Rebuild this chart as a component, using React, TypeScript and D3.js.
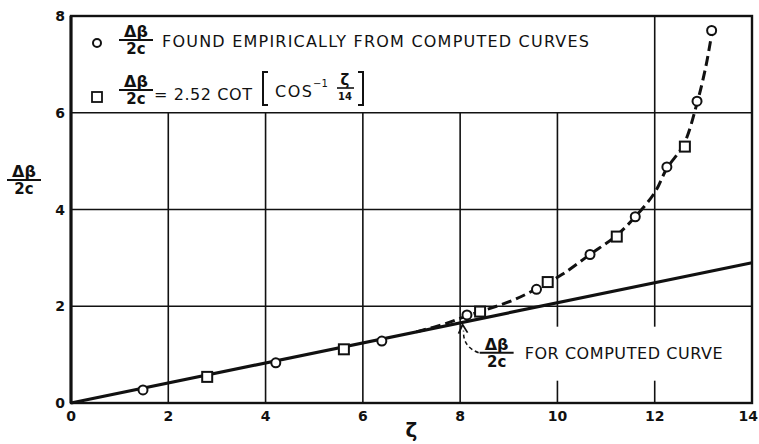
import React from 'react'
import * as d3 from 'd3'

// values
const xTicks = [0, 2, 4, 6, 8, 10, 12, 14]
const yTicks = [0, 2, 4, 6, 8]

// circles: found empirically from computed curves
const empiricalX = [1.48, 4.21, 6.39, 8.14, 9.57, 10.67, 11.6, 12.25, 12.87, 13.17]
const empiricalY = [0.27, 0.83, 1.28, 1.82, 2.35, 3.07, 3.85, 4.88, 6.24, 7.7]

// squares: 2.52 cot[cos^-1 (zeta/14)]
const formulaX = [2.8, 5.61, 8.41, 9.8, 11.22, 12.62]
const formulaY = [0.54, 1.11, 1.89, 2.5, 3.44, 5.3]

// solid straight line for computed curve
const lineX = [0, 14]
const lineY = [0, 2.9]

// dashed curve through the points
const dashX = [7.1, 7.7, 8.14, 8.6, 9.1, 9.57, 10.1, 10.67, 11.2, 11.6, 12.0, 12.25, 12.6, 12.87, 13.05, 13.17]
const dashY = [1.47, 1.64, 1.8, 1.95, 2.13, 2.36, 2.66, 3.07, 3.45, 3.85, 4.35, 4.85, 5.35, 6.2, 6.95, 7.62]

const W = 759
const H = 444
const sans = '"DejaVu Sans", sans-serif'

function Frac({ cx, cy, num, den, size = 16 }: { cx: number; cy: number; num: string; den: string; size?: number }) {
  return (
    <g fontFamily={sans} fill="#111" textAnchor="middle">
      <text x={cx} y={cy - 3} fontSize={size} fontWeight="bold">{num}</text>
      <line x1={cx - 17} x2={cx + 17} y1={cy} y2={cy} stroke="#111" strokeWidth={2} />
      <text x={cx} y={cy + size - 2} fontSize={size - 1} fontWeight="600">{den}</text>
    </g>
  )
}

export default function App() {
  const x = d3.scaleLinear().domain([0, 14]).range([71, 752])
  const y = d3.scaleLinear().domain([0, 8]).range([403, 16])

  const solid = d3.line<number>().x((d, i) => x(lineX[i])).y(d => y(d))(lineY) || ''
  const dashed = d3.line<number>()
    .x((d, i) => x(dashX[i]))
    .y(d => y(d))
    .curve(d3.curveCatmullRom)(dashY) || ''

  // annotation anchor (data coords)
  const annX = x(8.75)
  const annY = y(1.04)
  const tipX = x(8.05)
  const tipY = y(1.62)

  return (
    <svg width={W} height={H} style={{ position: 'absolute', left: 0, top: 0, background: '#fff' }}>
      <rect x={0} y={0} width={W} height={H} fill="#fff" />

      {/* grid */}
      {xTicks.filter(t => t > 0 && t < 14).map(t => (
        <line key={'gx' + t} x1={x(t)} x2={x(t)} y1={y(0)} y2={t === 12 ? y(8) : y(6)} stroke="#111" strokeWidth={1.6} />
      ))}
      {yTicks.filter(t => t > 0 && t < 8).map(t => (
        <line key={'gy' + t} x1={x(0)} x2={x(14)} y1={y(t)} y2={y(t)} stroke="#111" strokeWidth={1.6} />
      ))}

      {/* white patch behind annotation */}
      <rect x={annX - 22} y={annY - 26} width={254} height={54} fill="#fff" />

      {/* frame */}
      <rect x={x(0)} y={y(8)} width={x(14) - x(0)} height={y(0) - y(8)} fill="none" stroke="#111" strokeWidth={2.4} />
      <line x1={x(0)} x2={x(0)} y1={y(0)} y2={y(8)} stroke="#111" strokeWidth={3} />

      {/* tick labels */}
      <g fontFamily={sans} fontWeight="bold" fontSize={14} fill="#111">
        {yTicks.map(t => (
          <text key={'yl' + t} x={x(0) - 6} y={y(t) + 5} textAnchor="end">{t}</text>
        ))}
        {xTicks.map(t => (
          <text key={'xl' + t} x={t === 14 ? W - 1 : x(t)} y={y(0) + 18} textAnchor={t === 14 ? 'end' : 'middle'}>{t}</text>
        ))}
      </g>

      {/* axis titles */}
      <Frac cx={24} cy={180} num="Δβ" den="2c" />
      <text x={x(7)} y={437} textAnchor="middle" fontFamily={sans} fontSize={20} fontWeight="bold" fill="#111">ζ</text>

      {/* curves */}
      <path d={solid} fill="none" stroke="#111" strokeWidth={3.2} />
      <path d={dashed} fill="none" stroke="#111" strokeWidth={3} strokeDasharray="10 5" />

      {/* markers */}
      {formulaX.map((v, i) => (
        <rect key={'s' + i} x={x(v) - 5} y={y(formulaY[i]) - 5} width={10} height={10} fill="#fff" stroke="#111" strokeWidth={2} />
      ))}
      {empiricalX.map((v, i) => (
        <circle key={'c' + i} cx={x(v)} cy={y(empiricalY[i])} r={4.5} fill="#fff" stroke="#111" strokeWidth={2} />
      ))}

      {/* annotation */}
      <path d={`M ${annX - 18} ${annY} Q ${tipX} ${annY - 6} ${tipX + 1} ${tipY + 6}`} fill="none" stroke="#111" strokeWidth={1.5} strokeDasharray="4 3" />
      <path d={`M ${tipX - 4} ${tipY + 9} L ${tipX} ${tipY} L ${tipX + 5} ${tipY + 8}`} fill="none" stroke="#111" strokeWidth={1.8} />
      <Frac cx={annX} cy={annY} num="Δβ" den="2c" />
      <text x={annX + 28} y={annY + 6} fontFamily={sans} fontSize={16} fontWeight="500" fill="#111" textLength={198} lengthAdjust="spacing">FOR COMPUTED CURVE</text>

      {/* legend */}
      <circle cx={97} cy={43} r={4} fill="#fff" stroke="#111" strokeWidth={2} />
      <Frac cx={136} cy={40} num="Δβ" den="2c" />
      <text x={162} y={47} fontFamily={sans} fontSize={16} fill="#111" textLength={427} lengthAdjust="spacing">FOUND EMPIRICALLY FROM COMPUTED CURVES</text>

      <rect x={92} y={92} width={10} height={10} fill="#fff" stroke="#111" strokeWidth={1.8} />
      <Frac cx={136} cy={90} num="Δβ" den="2c" />
      <text x={154} y={100} fontFamily={sans} fontSize={16} fill="#111" textLength={98} lengthAdjust="spacing">= 2.52 COT</text>
      <path d="M 268 72 L 263 72 L 263 105 L 268 105" fill="none" stroke="#111" strokeWidth={2} />
      <text x={275} y={97} fontFamily={sans} fontSize={16} fill="#111" textLength={37} lengthAdjust="spacing">COS</text>
      <text x={313} y={87} fontFamily={sans} fontSize={10} fill="#111">−1</text>
      <text x={345} y={85} textAnchor="middle" fontFamily={sans} fontSize={15} fontWeight="bold" fill="#111">ζ</text>
      <line x1={337} x2={354} y1={88} y2={88} stroke="#111" strokeWidth={1.6} />
      <text x={345} y={100} textAnchor="middle" fontFamily={sans} fontSize={10} fontWeight="bold" fill="#111">14</text>
      <path d="M 358 72 L 363 72 L 363 105 L 358 105" fill="none" stroke="#111" strokeWidth={2} />
    </svg>
  )
}
